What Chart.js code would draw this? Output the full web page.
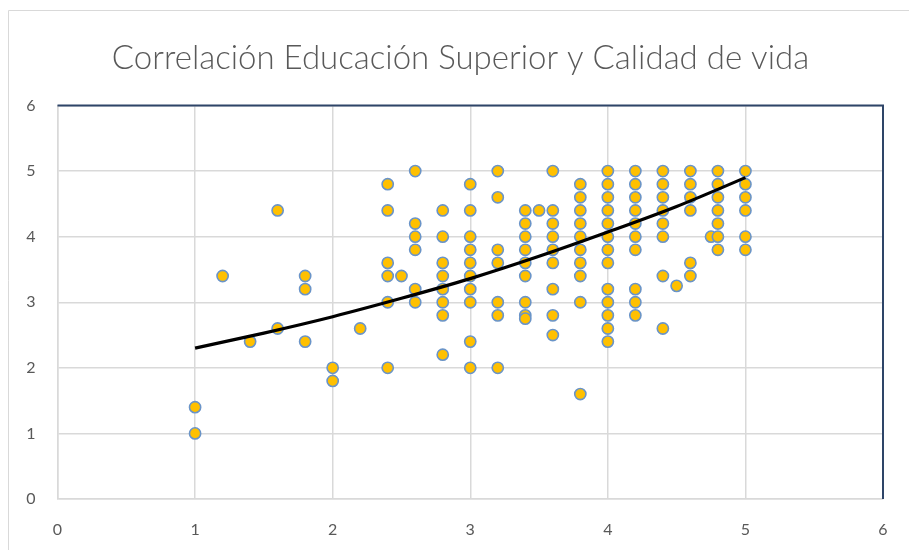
<!DOCTYPE html>
<html>
<head>
<meta charset="utf-8">
<script src="https://cdn.jsdelivr.net/npm/chart.js@4"></script>
<style>
  html, body { margin: 0; padding: 0; background: #fff; }
  #wrap { width: 909px; height: 550px; position: relative; }
</style>
</head>
<body>
<div id="wrap"><canvas id="c" width="909" height="550"></canvas></div>
<script>
// Educación Superior (x) y Calidad de vida (y), pares
const educacion = [
  1, 1,
  1.2,
  1.4,
  1.6, 1.6,
  1.8, 1.8, 1.8,
  2, 2,
  2.2,
  2.4, 2.4, 2.4, 2.4, 2.4, 2.4,
  2.5,
  2.6, 2.6, 2.6, 2.6, 2.6, 2.6,
  2.8, 2.8, 2.8, 2.8, 2.8, 2.8, 2.8, 2.8,
  3, 3, 3, 3, 3, 3, 3, 3, 3, 3,
  3.2, 3.2, 3.2, 3.2, 3.2, 3.2, 3.2,
  3.4, 3.4, 3.4, 3.4, 3.4, 3.4, 3.4, 3.4, 3.4,
  3.5,
  3.6, 3.6, 3.6, 3.6, 3.6, 3.6, 3.6, 3.6, 3.6,
  3.8, 3.8, 3.8, 3.8, 3.8, 3.8, 3.8, 3.8, 3.8, 3.8,
  4, 4, 4, 4, 4, 4, 4, 4, 4, 4, 4, 4, 4,
  4.2, 4.2, 4.2, 4.2, 4.2, 4.2, 4.2, 4.2, 4.2, 4.2,
  4.4, 4.4, 4.4, 4.4, 4.4, 4.4, 4.4, 4.4,
  4.5,
  4.6, 4.6, 4.6, 4.6, 4.6, 4.6,
  4.75,
  4.8, 4.8, 4.8, 4.8, 4.8, 4.8, 4.8,
  5, 5, 5, 5, 5, 5
];
const calidad = [
  1.4, 1.0,
  3.4,
  2.4,
  4.4, 2.6,
  3.4, 3.2, 2.4,
  2.0, 1.8,
  2.6,
  4.8, 4.4, 3.6, 3.4, 3.0, 2.0,
  3.4,
  5.0, 4.2, 4.0, 3.8, 3.2, 3.0,
  4.4, 4.0, 3.6, 3.4, 3.2, 3.0, 2.8, 2.2,
  4.8, 4.4, 4.0, 3.8, 3.6, 3.4, 3.2, 3.0, 2.4, 2.0,
  5.0, 4.6, 3.8, 3.6, 3.0, 2.8, 2.0,
  4.4, 4.2, 4.0, 3.8, 3.6, 3.4, 3.0, 2.8, 2.75,
  4.4,
  5.0, 4.4, 4.2, 4.0, 3.8, 3.6, 3.2, 2.8, 2.5,
  4.8, 4.6, 4.4, 4.2, 4.0, 3.8, 3.6, 3.4, 3.0, 1.6,
  5.0, 4.8, 4.6, 4.4, 4.2, 4.0, 3.8, 3.6, 3.2, 3.0, 2.8, 2.6, 2.4,
  5.0, 4.8, 4.6, 4.4, 4.2, 4.0, 3.8, 3.2, 3.0, 2.8,
  5.0, 4.8, 4.6, 4.4, 4.2, 4.0, 3.4, 2.6,
  3.25,
  5.0, 4.8, 4.6, 4.4, 3.6, 3.4,
  4.0,
  5.0, 4.8, 4.6, 4.4, 4.2, 4.0, 3.8,
  5.0, 4.8, 4.6, 4.4, 4.0, 3.8
];
// Línea de tendencia
const tendenciaX = [1, 1.5, 2, 2.5, 3, 3.5, 4, 4.5, 5];
const tendenciaY = [2.30, 2.53, 2.78, 3.06, 3.36, 3.70, 4.07, 4.46, 4.90];
const xTicks = [0, 1, 2, 3, 4, 5, 6];
const yTicks = [0, 1, 2, 3, 4, 5, 6];
const titulo = 'Correlación Educación Superior y Calidad de vida';

const puntos = educacion.map((x, i) => ({ x: x, y: calidad[i] }));
const tendencia = tendenciaX.map((x, i) => ({ x: x, y: tendenciaY[i] }));

const framePlugin = {
  id: 'frame',
  beforeDraw(chart) {
    const ctx = chart.ctx;
    ctx.save();
    ctx.strokeStyle = '#D9D9D9';
    ctx.lineWidth = 1;
    ctx.beginPath();
    ctx.moveTo(8.5, 550);
    ctx.lineTo(8.5, 10.5);
    ctx.lineTo(909, 10.5);
    ctx.stroke();
    // title
    ctx.fillStyle = '#595959';
    ctx.font = '300 33px Lato';
    ctx.textAlign = 'center';
    ctx.textBaseline = 'alphabetic';
    ctx.fillText(titulo, 460.5, 69);
    ctx.restore();
  },
  afterDatasetsDraw(chart) {
    const a = chart.chartArea;
    const ctx = chart.ctx;
    ctx.save();
    ctx.strokeStyle = '#2E4568';
    ctx.lineWidth = 2;
    ctx.beginPath();
    ctx.moveTo(a.left, a.top);
    ctx.lineTo(a.right, a.top);
    ctx.lineTo(a.right, a.bottom);
    ctx.stroke();
    ctx.restore();
  }
};

new Chart(document.getElementById('c'), {
  type: 'scatter',
  data: {
    datasets: [
      {
        label: 'Datos',
        data: puntos,
        backgroundColor: '#FFC000',
        borderColor: '#6A94C8',
        borderWidth: 1.6,
        pointRadius: 5.6,
        pointHoverRadius: 5.6,
        order: 2
      },
      {
        label: 'Tendencia',
        type: 'line',
        data: tendencia,
        borderColor: '#000000',
        borderWidth: 3.2,
        pointRadius: 0,
        fill: false,
        tension: 0.4,
        cubicInterpolationMode: 'monotone',
        order: 1
      }
    ]
  },
  options: {
    responsive: false,
    animation: false,
    devicePixelRatio: 1,
    layout: { padding: { left: 0, right: 26, top: 105.5, bottom: 0 } },
    plugins: {
      legend: { display: false },
      tooltip: { enabled: false },
      title: { display: false }
    },
    scales: {
      x: {
        type: 'linear',
        min: 0, max: 6,
        afterBuildTicks: (s) => { s.ticks = xTicks.map(v => ({ value: v })); },
        afterFit: (s) => { s.height = 51; },
        ticks: { color: '#595959', font: { family: 'Lato', size: 16 }, padding: 21 },
        grid: { color: '#D9D9D9', lineWidth: 1.5, drawTicks: false },
        border: { color: '#D9D9D9', width: 1.5 }
      },
      y: {
        type: 'linear',
        min: 0, max: 6,
        afterBuildTicks: (s) => { s.ticks = yTicks.map(v => ({ value: v })); },
        afterFit: (s) => { s.width = 57.5; },
        ticks: { color: '#595959', font: { family: 'Lato', size: 16 }, padding: 22 },
        grid: { color: '#D9D9D9', lineWidth: 1.5, drawTicks: false },
        border: { color: '#D9D9D9', width: 1.5 }
      }
    }
  },
  plugins: [framePlugin]
});
</script>
</body>
</html>
